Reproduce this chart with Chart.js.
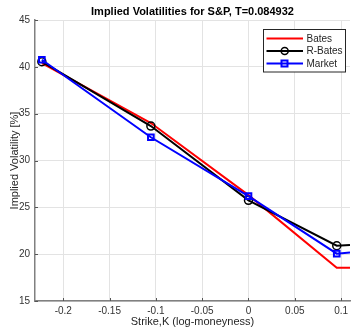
<!DOCTYPE html>
<html>
<head>
<meta charset="utf-8">
<script src="https://cdn.jsdelivr.net/npm/chart.js@4.4.1/dist/chart.umd.min.js"></script>
<style>
  html, body { margin: 0; padding: 0; background: #fff; overflow: hidden; }
  #wrap { position: relative; width: 356px; height: 329px; }
</style>
</head>
<body>
<div id="wrap"><canvas id="c"></canvas></div>
<script>
// ---- Data ----
const strikes = [-0.2231, -0.1054, 0, 0.0953, 0.1096];
const batesIV = [40.4, 34.0, 26.3, 18.55, 18.55];
const rBatesIV = [40.55, 33.68, 25.75, 20.9, 20.98];
const marketIV = [40.76, 32.48, 26.2, 20.05, 20.18];
const markerShown = [4, 4, 4, 4, 0];
const seriesNames = ['Bates', 'R-Bates', 'Market'];
const xTicks = [-0.2, -0.15, -0.1, -0.05, 0, 0.05, 0.1];
const xTickLabels = ['-0.2', '-0.15', '-0.1', '-0.05', '0', '0.05', '0.1'];
const yTicks = [15, 20, 25, 30, 35, 40, 45];
const yTickLabels = ['15', '20', '25', '30', '35', '40', '45'];
const titleText = 'Implied Volatilities for S&P, T=0.084932';
const xTitle = 'Strike,K (log-moneyness)';
const yTitle = 'Implied Volatility [%]';

const pts = arr => arr.map((v, i) => ({ x: strikes[i], y: v }));
const FONT = "'Liberation Sans', Arial, Helvetica, sans-serif";

const datasets = [
  { label: seriesNames[0], data: pts(batesIV), borderColor: '#ff0000', borderWidth: 2,
    pointRadius: 0, order: 2, fill: false },
  { label: seriesNames[1], data: pts(rBatesIV), borderColor: '#000000', borderWidth: 2,
    pointStyle: 'circle', pointRadius: markerShown, pointBorderWidth: 1.5,
    pointBackgroundColor: 'rgba(0,0,0,0)', pointBorderColor: '#000000', order: 1, fill: false },
  { label: seriesNames[2], data: pts(marketIV), borderColor: '#0000ff', borderWidth: 2,
    pointStyle: 'rect', pointRadius: markerShown, pointBorderWidth: 2,
    pointBackgroundColor: 'rgba(0,0,0,0)', pointBorderColor: '#0000ff', order: 0, fill: false }
];

const decor = {
  id: 'decor',
  afterDraw(chart) {
    const ctx = chart.ctx;
    const a = chart.chartArea;
    const xs = chart.scales.x, ys = chart.scales.y;
    ctx.save();
    // inward ticks
    ctx.strokeStyle = '#555';
    ctx.lineWidth = 1;
    ctx.beginPath();
    xTicks.forEach(v => {
      const px = Math.round(xs.getPixelForValue(v)) + 0.5;
      ctx.moveTo(px, a.bottom); ctx.lineTo(px, a.bottom - 3);
    });
    yTicks.forEach(v => {
      const py = Math.round(ys.getPixelForValue(v)) + 0.5;
      ctx.moveTo(a.left, py); ctx.lineTo(a.left + 3, py);
    });
    ctx.stroke();
    // title
    ctx.fillStyle = '#000';
    ctx.font = 'bold 11px ' + FONT;
    ctx.textAlign = 'center';
    ctx.textBaseline = 'middle';
    ctx.fillText(titleText, (a.left + a.right) / 2, 12);
    // legend
    const bx = 263.5, by = 29.5, bw = 82, bh = 42.5;
    ctx.fillStyle = '#fff';
    ctx.fillRect(bx, by, bw, bh);
    ctx.strokeStyle = '#262626';
    ctx.lineWidth = 1;
    ctx.strokeRect(bx, by, bw, bh);
    const rows = [38.5, 51, 63.5];
    const cols = ['#ff0000', '#000000', '#0000ff'];
    ctx.font = '10px ' + FONT;
    ctx.textAlign = 'left';
    rows.forEach((ry, i) => {
      ctx.strokeStyle = cols[i];
      ctx.lineWidth = 2;
      ctx.beginPath();
      ctx.moveTo(266.5, ry); ctx.lineTo(303, ry);
      ctx.stroke();
      if (i === 1) {
        ctx.lineWidth = 1.5;
        ctx.beginPath();
        ctx.arc(284.7, ry, 3.5, 0, Math.PI * 2);
        ctx.stroke();
      } else if (i === 2) {
        ctx.lineWidth = 2;
        ctx.strokeRect(281.5, ry - 3, 6, 6);
      }
      ctx.fillStyle = '#262626';
      ctx.fillText(seriesNames[i], 306.5, ry + 0.5);
    });
    ctx.restore();
  }
};

new Chart(document.getElementById('c'), {
  type: 'line',
  data: { datasets },
  plugins: [decor],
  options: {
    responsive: true,
    maintainAspectRatio: false,
    animation: false,
    layout: { padding: { top: 20, right: 1, left: 0, bottom: 0 } },
    plugins: { legend: { display: false }, title: { display: false }, tooltip: { enabled: false } },
    elements: { line: { tension: 0 } },
    scales: {
      x: {
        type: 'linear',
        min: -0.2305,
        max: 0.1096,
        afterFit: s => { s.height = 28; },
        afterBuildTicks: s => { s.ticks = xTicks.map(v => ({ value: v })); },
        ticks: {
          padding: 4,
          color: '#333',
          font: { family: FONT, size: 10 },
          maxRotation: 0,
          autoSkip: false,
          callback: (v) => { const i = xTicks.findIndex(t => Math.abs(t - v) < 1e-9); return i >= 0 ? xTickLabels[i] : ''; }
        },
        grid: { color: '#e3e3e3', lineWidth: 1, drawTicks: false },
        border: { color: '#808080', width: 1.5 },
        title: { display: true, text: xTitle, color: '#262626', font: { family: FONT, size: 11 }, padding: { top: 0, bottom: 0 } }
      },
      y: {
        type: 'linear',
        min: 15,
        max: 45,
        afterFit: s => { s.width = 35; },
        afterBuildTicks: s => { s.ticks = yTicks.map(v => ({ value: v })); },
        ticks: {
          padding: 5,
          color: '#333',
          font: { family: FONT, size: 10 },
          autoSkip: false,
          callback: (v) => { const i = yTicks.indexOf(v); return i >= 0 ? yTickLabels[i] : ''; }
        },
        grid: { color: '#e3e3e3', lineWidth: 1, drawTicks: false },
        border: { color: '#808080', width: 1.5 },
        title: { display: true, text: yTitle, color: '#262626', font: { family: FONT, size: 11 }, padding: { top: 8.5, bottom: 0 } }
      }
    }
  }
});
</script>
</body>
</html>
